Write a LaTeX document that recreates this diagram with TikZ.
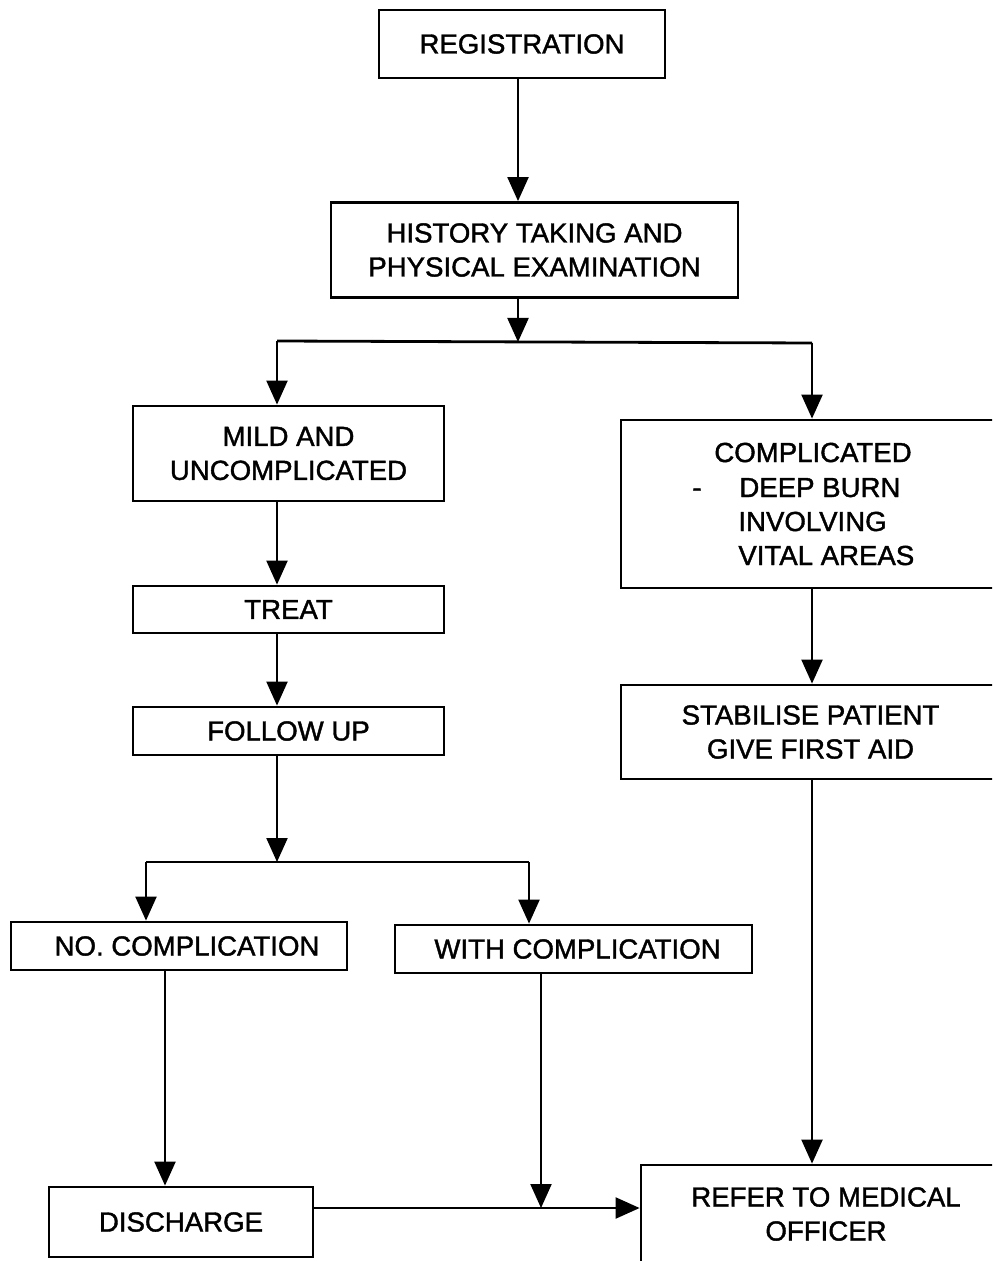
\documentclass[tikz,border=0pt]{standalone}
\usepackage{fontspec}
\setmainfont{Liberation Sans}[FakeBold=1.4]
\usetikzlibrary{arrows.meta}
\begin{document}
\begin{tikzpicture}[x=0.5pt,y=-0.5pt,
  txt/.style={font=\fontsize{13.8}{17}\selectfont},
  box/.style={draw, line width=1.4pt, inner sep=0pt, align=center, txt},
  lbl/.style={inner sep=0pt, align=center, txt},
  link/.style={line width=1.1pt},
  arr/.style={link, -{Triangle[width=10.5pt,length=12pt]}}]
\useasboundingbox (0,0) rectangle (992,1261);
\clip (0,0) rectangle (992,1261);
\fill[white] (0,0) rectangle (992,1261);

% main column of steps
\node[box, minimum width=143pt, minimum height=34pt] (reg) at (522,44) {REGISTRATION};
\node[box, minimum width=203.5pt, minimum height=47.5pt] (hist) at (534.5,250) {HISTORY TAKING AND\\PHYSICAL EXAMINATION};

% left branch: mild burns
\node[box, minimum width=155.5pt, minimum height=47.5pt] (mild) at (288.5,453.5) {MILD AND\\UNCOMPLICATED};
\node[box, minimum width=155.5pt, minimum height=23.5pt] (treat) at (288.5,609.5) {TREAT};
\node[box, minimum width=155.5pt, minimum height=24pt] (follow) at (288.5,731) {FOLLOW UP};
\node[box, minimum width=168pt, minimum height=24pt] (noc) at (179,946) {\hspace*{8pt}NO. COMPLICATION};
\node[box, minimum width=178.5pt, minimum height=24pt] (withc) at (573.5,949) {\hspace*{4pt}WITH COMPLICATION};
\node[box, minimum width=132pt, minimum height=35pt] (dis) at (181,1222) {DISCHARGE};

% right branch: complicated burns (boxes run past the right edge)
\node[box, minimum width=191.5pt, minimum height=84pt] (comp) at (812.5,504) {};
\node[lbl, anchor=base] (cA) at (813,462) {COMPLICATED};
\node[lbl, anchor=base] (cDash) at (697,497) {-};
\node[lbl, anchor=base west] (cB) at (739,497) {DEEP BURN};
\node[lbl, anchor=base west] (cC) at (738,531) {INVOLVING};
\node[lbl, anchor=base west] (cD) at (738,565) {VITAL AREAS};
\node[box, minimum width=189.5pt, minimum height=47pt] (stab) at (810.5,732) {STABILISE PATIENT\\GIVE FIRST AID};
\node[box, minimum width=185pt, minimum height=55pt] (refer) at (826,1220) {};
\node[lbl] (referT) at (826,1214) {REFER TO MEDICAL\\OFFICER};

% branch points
\coordinate (c1) at (518,342);
\coordinate (jL) at (277,341);
\coordinate (jR) at (812,343);
\coordinate (j2) at (277,862);
\coordinate (j2L) at (146,862);
\coordinate (j2R) at (529,862);
\coordinate (xN) at (165,970);
\coordinate (hl) at (541,1208);

% connectors
\draw[arr] (c1 |- reg.south) -- (c1 |- hist.north);
\draw[arr] (c1 |- hist.south) -- (c1);
\draw[link, line width=1.4pt] (jL) -- (jR);
\draw[arr] (jL) -- (jL |- mild.north);
\draw[arr] (jR) -- (jR |- comp.north);
\draw[arr] (jL |- mild.south) -- (jL |- treat.north);
\draw[arr] (jL |- treat.south) -- (jL |- follow.north);
\draw[arr] (jL |- follow.south) -- (j2);
\draw[link, line width=1.4pt] (j2L) -- (j2R);
\draw[arr] (j2L) -- (j2L |- noc.north);
\draw[arr] (j2R) -- (j2R |- withc.north);
\draw[arr] (jR |- comp.south) -- (jR |- stab.north);
\draw[arr] (jR |- stab.south) -- (jR |- refer.north);
\draw[arr] (xN |- noc.south) -- (xN |- dis.north);
\draw[arr] (hl |- withc.south) -- (hl);
\draw[arr] (dis.east |- hl) -- (refer.west |- hl);
\end{tikzpicture}
\end{document}
